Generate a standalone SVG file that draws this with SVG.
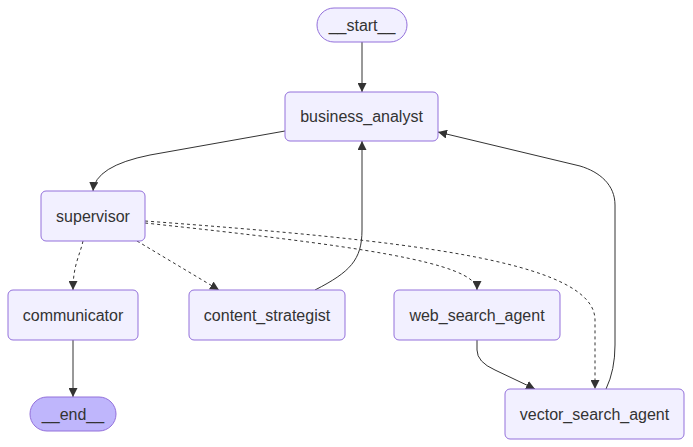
<svg xmlns="http://www.w3.org/2000/svg" width="693" height="447" viewBox="0 0 693 447">
<style>
.node rect{fill:#f2f0ff;stroke:#9370DB;stroke-width:1}
.node.last rect{fill:#bfb6fc}
.node text{font-family:"Liberation Sans",Arial,sans-serif;font-size:16px;fill:#333;text-anchor:middle}
.edge{fill:none;stroke:#333;stroke-width:1}
.dash{stroke-dasharray:3 3}
</style>
<defs>
<marker id="arr" viewBox="0 0 10 10" refX="10" refY="5" markerWidth="9" markerHeight="9" markerUnits="userSpaceOnUse" orient="auto">
<path d="M0,0 L10,5 L0,10 z" fill="#333"/>
</marker>
</defs>
<g id="edges">
<path class="edge" d="M362,42 L362,92" marker-end="url(#arr)"/>
<path class="edge" d="M285,131 L150,155 Q95,166 93,191" marker-end="url(#arr)"/>
<path class="edge dash" d="M83,241 C80,255 73,265 73,290" marker-end="url(#arr)"/>
<path class="edge dash" d="M137,241 L219,290" marker-end="url(#arr)"/>
<path class="edge dash" d="M145,223 C350,245 477,262 477,290" marker-end="url(#arr)"/>
<path class="edge dash" d="M145,221 C400,240 595,260 595,320 L595,389" marker-end="url(#arr)"/>
<path class="edge" d="M315,290 C350,272 362,260 362,230 L362,141" marker-end="url(#arr)"/>
<path class="edge" d="M477,340 L477,350 Q477,362 495,370 L535,389" marker-end="url(#arr)"/>
<path class="edge" d="M606,389 Q615,370 615,345 L615,205 C615,185 600,172 580,166 L438,132" marker-end="url(#arr)"/>
<path class="edge" d="M73,340 L73,397" marker-end="url(#arr)"/>
</g>
<g id="start" class="node"><rect x="317" y="8" width="90" height="34" rx="17"/><text x="362" y="30.5">__start__</text></g>
<g id="business_analyst" class="node"><rect x="285" y="92" width="153" height="49" rx="5"/><text x="361.5" y="122">business_analyst</text></g>
<g id="supervisor" class="node"><rect x="41" y="191" width="104" height="50" rx="5"/><text x="93" y="221.5">supervisor</text></g>
<g id="communicator" class="node"><rect x="8" y="290" width="130" height="50" rx="5"/><text x="73" y="320.5">communicator</text></g>
<g id="content_strategist" class="node"><rect x="189" y="290" width="156" height="50" rx="5"/><text x="267" y="320.5">content_strategist</text></g>
<g id="web_search_agent" class="node"><rect x="394" y="290" width="166" height="50" rx="5"/><text x="477" y="320.5">web_search_agent</text></g>
<g id="vector_search_agent" class="node"><rect x="505" y="389" width="179" height="50" rx="5"/><text x="594.5" y="419.5">vector_search_agent</text></g>
<g id="end" class="node last"><rect x="30" y="397" width="86" height="34" rx="17"/><text x="73" y="419.5">__end__</text></g>
</svg>
